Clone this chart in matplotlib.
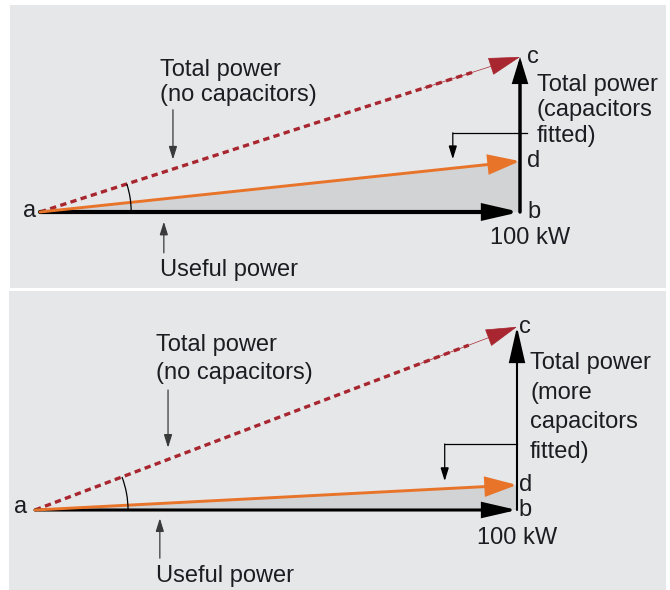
import numpy as np
import matplotlib.pyplot as plt
from matplotlib.patches import FancyArrowPatch, Polygon, Arc

plt.rcParams['font.family'] = ['Liberation Sans', 'DejaVu Sans']

# power triangle values (kW along, kvar up, same scale)
useful_kw = [100, 100]
kvar_no_caps = [32.3, 38.0]      # point c
kvar_with_caps = [10.6, 5.2]     # point d
point_names = ['a', 'b', 'c', 'd']
top_label = 'Total power\n(no capacitors)'
bottom_label = 'Useful power'
kw_label = '100 kW'
right_labels = ['Total power\n(capacitors\nfitted)',
                'Total power\n(more\ncapacitors\nfitted)']

W, H = 670, 590
BG = '#e6e7e8'
FILL = '#d2d3d5'
RED = '#a8262f'
ORANGE = '#e8742a'
INK = '#1c1c22'
FS = 17

fig = plt.figure(figsize=(W / 100, H / 100), dpi=100)
fig.patch.set_facecolor('white')

# layout of each panel (pixel box, origin a in pixels, px per kW) and label spots in kW
layouts = [
    dict(box=(10, 5, 666, 288), origin=(40, 212), s=4.8,
         top_xy=(25, 27.0), top_ls=1.22, top_arrow=(27.7, 21.3, 10.9),
         use_xy=(25, -12.1), use_arrow=(25.8, -8.5, -2.0),
         kw_xy=(102, -5.5), right_xy=(103.5, 21.2), right_ls=1.22,
         bracket=(101.5, 86, 16.5, 11.0), arc_r=19, lw_h=3.0, lw_v=2.5,
         head_v=(14, 4.3), a_xy=(-2.1, 0.2), let_x=101.5),
    dict(box=(9, 291, 666, 590), origin=(35, 510), s=4.82,
         top_xy=(25.1, 31.4), top_ls=1.35, top_arrow=(27.6, 24.9, 12.9),
         use_xy=(25.1, -13.6), use_arrow=(25.9, -10.0, -1.7),
         kw_xy=(100, -5.9), right_xy=(102.7, 21.3), right_ls=1.45,
         bracket=(100, 85, 13.7, 6.0), arc_r=19.3, lw_h=2.2, lw_v=1.5,
         head_v=(22, 5.0), a_xy=(-2.9, 0.6), let_x=100.4),
]


def arrow(ax, p0, p1, color, lw, hl, hw, **kw):
    ax.add_patch(FancyArrowPatch(p0, p1, arrowstyle=f'-|>,head_length={hl},head_width={hw}',
                                 mutation_scale=1, color=color, lw=lw,
                                 shrinkA=0, shrinkB=0, joinstyle='miter', **kw))


for i, L in enumerate(layouts):
    x0, y0, x1, y1 = L['box']
    ox, oy = L['origin']
    s = L['s']
    ax = fig.add_axes([x0 / W, 1 - y1 / H, (x1 - x0) / W, (y1 - y0) / H])
    ax.set_xlim((x0 - ox) / s, (x1 - ox) / s)
    ax.set_ylim((oy - y1) / s, (oy - y0) / s)
    ax.set_facecolor(BG)
    ax.set_xticks([])
    ax.set_yticks([])
    for sp in ax.spines.values():
        sp.set_visible(False)

    P = useful_kw[i]
    Qc = kvar_no_caps[i]
    Qd = kvar_with_caps[i]

    # shaded triangle a-b-d
    ax.add_patch(Polygon([(0, 0), (P, 0), (P, Qd)], closed=True, facecolor=FILL,
                         edgecolor='none', zorder=1))

    # useful power a->b
    arrow(ax, (0, 0), (P, 0), 'black', L['lw_h'], 20, 4.6, zorder=4)
    # b->c vertical
    arrow(ax, (P, 0), (P, Qc), 'black', L['lw_v'], *L['head_v'], zorder=4)
    # total power without capacitors (dashed) a->c
    frac = 0.9
    ax.plot([0, P * frac], [0, Qc * frac], color=RED, lw=2.4,
            linestyle=(0, (1.9, 1.3)), solid_capstyle='butt', zorder=3)
    arrow(ax, (P * 0.8, Qc * 0.8), (P, Qc), RED, 0.5, 21, 6.0, zorder=5)
    # total power with capacitors a->d
    arrow(ax, (0, 0), (P, Qd), ORANGE, 2.1, 19, 6.0, zorder=5)

    # angle arc
    r = L['arc_r']
    ax.add_patch(Arc((0, 0), 2 * r, 2 * r, theta1=0,
                     theta2=float(np.degrees(np.arctan2(Qc, P))),
                     color='black', lw=0.9, zorder=6))

    # point letters
    ax.text(*L['a_xy'], point_names[0], ha='center', va='center', fontsize=FS, color=INK)
    ax.text(L['let_x'], 0, point_names[1], ha='left', va='center', fontsize=FS, color=INK)
    ax.text(L['let_x'], Qc, point_names[2], ha='left', va='center', fontsize=FS, color=INK)
    ax.text(L['let_x'], Qd, point_names[3], ha='left', va='center', fontsize=FS, color=INK)

    # labels
    ax.text(*L['top_xy'], top_label, ha='left', va='center', fontsize=FS,
            linespacing=L['top_ls'], color=INK)
    tx, ty0, ty1 = L['top_arrow']
    arrow(ax, (tx, ty0), (tx, ty1), '#3a3a3a', 0.9, 8, 2.5, zorder=6)

    ax.text(*L['use_xy'], bottom_label, ha='left', va='center', fontsize=FS, color=INK)
    ux, uy0, uy1 = L['use_arrow']
    arrow(ax, (ux, uy0), (ux, uy1), '#3a3a3a', 0.9, 8, 2.5, zorder=6)

    ax.text(*L['kw_xy'], kw_label, ha='center', va='center', fontsize=FS, color=INK)

    ax.text(*L['right_xy'], right_labels[i], ha='left', va='center', fontsize=FS,
            linespacing=L['right_ls'], color=INK)
    bx_end, bx_start, by, by_tip = L['bracket']
    ax.plot([bx_end, bx_start], [by, by], color='black', lw=0.9, zorder=6)
    arrow(ax, (bx_start, by), (bx_start, by_tip), 'black', 0.9, 8, 2.5, zorder=6)

fig.savefig('out.png', dpi=100, facecolor='white')
